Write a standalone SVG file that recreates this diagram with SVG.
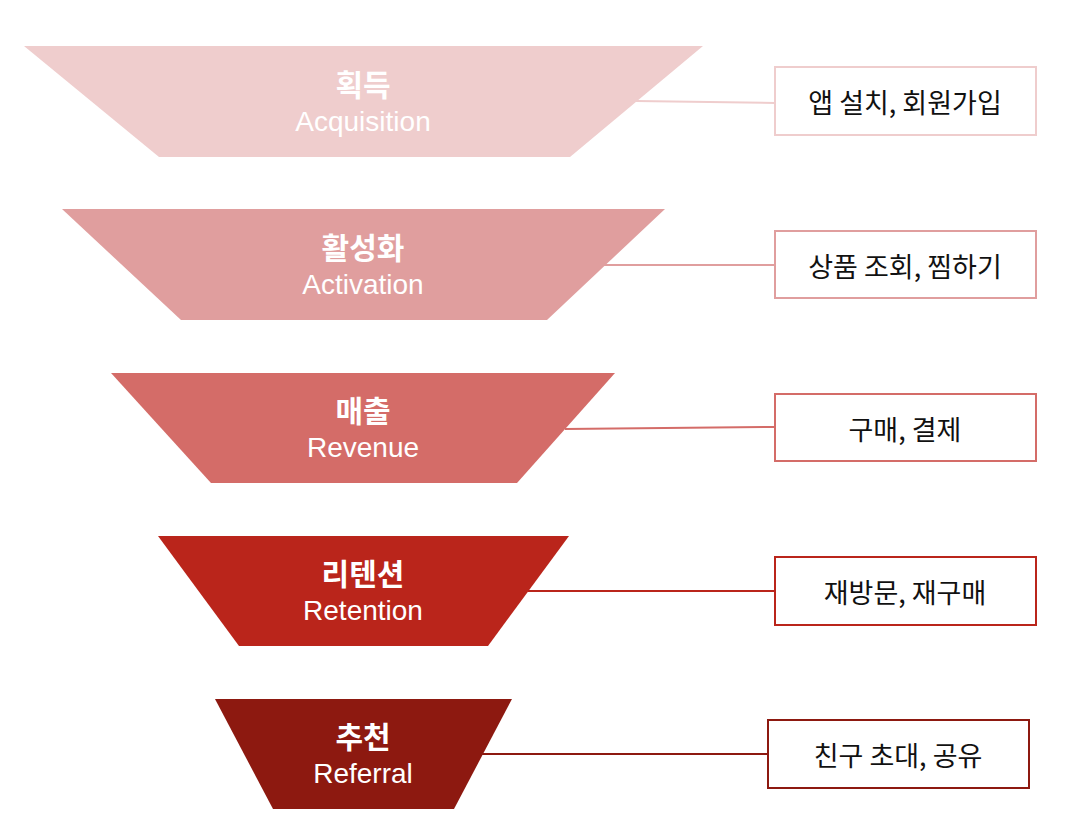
<svg xmlns="http://www.w3.org/2000/svg" width="1068" height="832" viewBox="0 0 1068 832">
<style>
.ko{font-family:"Noto Sans CJK KR","Noto Sans",sans-serif;font-weight:700;font-size:30px;fill:#fff;text-anchor:middle}
.en{font-family:"Liberation Sans",Arial,sans-serif;font-size:28px;fill:#fff;text-anchor:middle}
.bt{font-family:"Noto Sans CJK KR","Noto Sans",sans-serif;font-size:27px;fill:#111;text-anchor:middle;dominant-baseline:central}
.box{fill:#fff;stroke-width:2}
.ln{stroke-width:2;fill:none}
</style>
<rect width="1068" height="832" fill="#fff"/>
<g id="connectors">
<line class="ln" x1="636" y1="101" x2="775" y2="103" stroke="#EFCDCD"/>
<line class="ln" x1="604" y1="265" x2="775" y2="265" stroke="#E09E9E"/>
<line class="ln" x1="565" y1="429" x2="775" y2="427" stroke="#D46C68"/>
<line class="ln" x1="528" y1="591" x2="775" y2="591" stroke="#BA251B"/>
<line class="ln" x1="480" y1="754" x2="768" y2="754" stroke="#8D1910"/>
</g>
<g id="stage1">
<polygon points="24,46 703,46 570,157 159,157" fill="#EFCDCD"/>
<text class="ko" x="363" y="96">획득</text>
<text class="en" x="363" y="131">Acquisition</text>
</g>
<g id="stage2">
<polygon points="62,209 665,209 547,320 181,320" fill="#E09E9E"/>
<text class="ko" x="363" y="259">활성화</text>
<text class="en" x="363" y="294">Activation</text>
</g>
<g id="stage3">
<polygon points="111,373 615,373 517,483 211,483" fill="#D46C68"/>
<text class="ko" x="363" y="422">매출</text>
<text class="en" x="363" y="457">Revenue</text>
</g>
<g id="stage4">
<polygon points="158,536 569,536 488,646 239,646" fill="#BA251B"/>
<text class="ko" x="363" y="585">리텐션</text>
<text class="en" x="363" y="620">Retention</text>
</g>
<g id="stage5">
<polygon points="215,699 512,699 454,809 273,809" fill="#8D1910"/>
<text class="ko" x="363" y="748">추천</text>
<text class="en" x="363" y="783">Referral</text>
</g>
<g id="box1">
<rect class="box" x="775" y="67" width="261" height="68" stroke="#EFCDCD"/>
<text class="bt" x="905" y="101">앱 설치, 회원가입</text>
</g>
<g id="box2">
<rect class="box" x="775" y="231" width="261" height="67" stroke="#E09E9E"/>
<text class="bt" x="905" y="265">상품 조회, 찜하기</text>
</g>
<g id="box3">
<rect class="box" x="775" y="394" width="261" height="67" stroke="#D46C68"/>
<text class="bt" x="905" y="428">구매, 결제</text>
</g>
<g id="box4">
<rect class="box" x="775" y="557" width="261" height="68" stroke="#BA251B"/>
<text class="bt" x="905" y="591">재방문, 재구매</text>
</g>
<g id="box5">
<rect class="box" x="768" y="720" width="261" height="68" stroke="#8D1910"/>
<text class="bt" x="898" y="754">친구 초대, 공유</text>
</g>
</svg>
